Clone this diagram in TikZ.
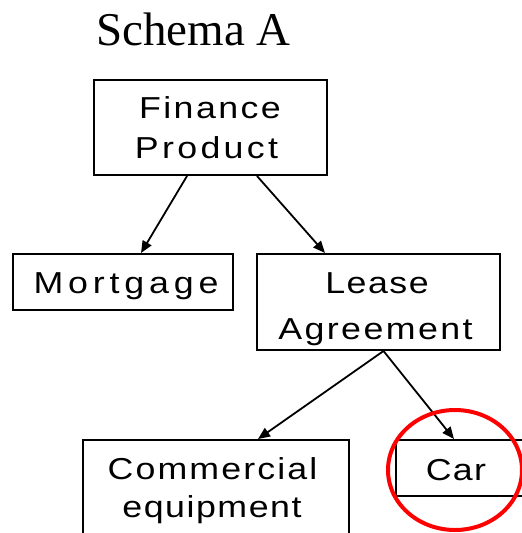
\documentclass[tikz,border=0pt]{standalone}
\usepackage{fontspec}
\usetikzlibrary{arrows.meta,shapes.geometric}
\setmainfont{Liberation Serif}
\newfontfamily\boxfont[FakeStretch=1.18, LetterSpace=8]{Liberation Sans}
% per-label tracking
\newcommand{\track}[1]{\addfontfeature{LetterSpace=#1}}
\tikzset{
  box/.style={draw, line width=2pt, rectangle, inner sep=0pt},
  lbl/.style={font=\boxfont\fontsize{30.3}{40}\selectfont, inner sep=0pt, anchor=base},
  arr/.style={draw, line width=1.8pt, -{Triangle[length=12pt,width=10pt]}},
  ring/.style={draw=red, line width=4pt, ellipse, inner sep=0pt},
}
\begin{document}
\begin{tikzpicture}[x=1pt,y=-1pt]
\useasboundingbox (0,0) rectangle (522,533);
\clip (0,0) rectangle (522,533);

% title
\node[font=\fontsize{47}{56}\selectfont, anchor=base, inner sep=0pt] (title) at (193.5,45) {Schema A};

% boxes
\node[box, minimum width=233, minimum height=95] (fp) at (210.5,127.5) {};
\node[box, minimum width=220, minimum height=56] (mort) at (123,282) {};
\node[box, minimum width=243, minimum height=96] (lease) at (378.5,302) {};
\node[box, minimum width=266, minimum height=96] (comm) at (216,488) {};
\node[box, minimum width=130, minimum height=56] (car) at (461,468) {};

% labels
\node[lbl] (fp1) at (210,118.3) {Finance};
\node[lbl] (fp2) at (206.5,158.3) {\track{11}Product};
\node[lbl] (mortl) at (126,293.3) {\track{16}Mortgage};
\node[lbl] (lease1) at (377,293.3) {\track{5}Lease};
\node[lbl] (lease2) at (375.5,339.5) {Agreement};
\node[lbl] (comm1) at (212.5,479) {\track{7}Commercial};
\node[lbl] (comm2) at (212,517) {\track{5}equipment};
\node[lbl] (carl) at (456,480) {\track{4}Car};

% connectors
\draw[arr] ([xshift=-23.5]fp.south) -- ([xshift=18]mort.north);
\draw[arr] ([xshift=46.5]fp.south) -- ([xshift=-53.5]lease.north);
\draw[arr] ([xshift=5]lease.south) -- ([xshift=42]comm.north);
\draw[arr] ([xshift=5]lease.south) -- ([xshift=-7]car.north);

% highlight ring
\node[ring, minimum width=134, minimum height=120] (hl) at (455,470) {};
\end{tikzpicture}
\end{document}
